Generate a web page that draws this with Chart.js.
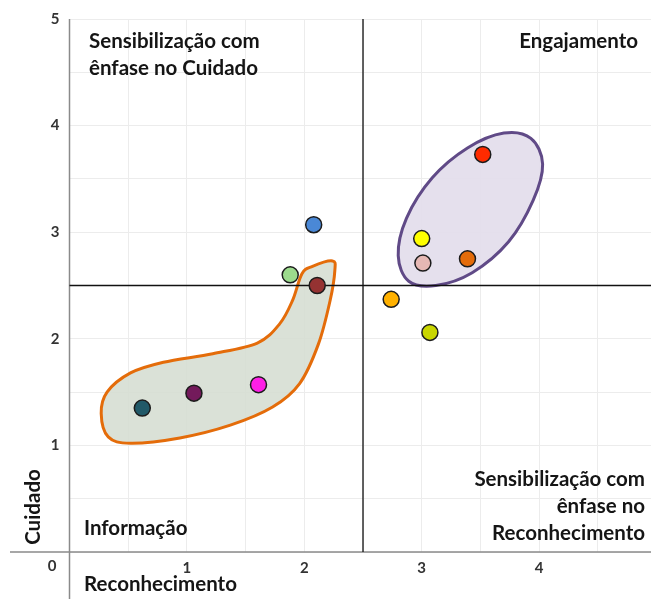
<!DOCTYPE html>
<html>
<head>
<meta charset="utf-8">
<script src="https://cdn.jsdelivr.net/npm/chart.js@4"></script>
<style>
  html, body { margin: 0; padding: 0; background: #fff; overflow: hidden; }
  canvas { display: block; }
</style>
</head>
<body>
<canvas id="matriz" width="670" height="599" style="width:670px;height:599px"></canvas>
<script>
// Pontos (Reconhecimento x Cuidado)
const pontosX = [0.62, 1.06, 1.61, 1.88, 2.08, 2.11, 2.74, 3.07, 3.00, 3.01, 3.39, 3.52];
const pontosY = [1.35, 1.49, 1.57, 2.60, 3.07, 2.50, 2.37, 2.06, 2.94, 2.71, 2.75, 3.73];
const pontosCor = ['#215968', '#731a5b', '#ff1fe6', '#9cdb8d', '#4a88d6', '#953232',
                   '#ffb100', '#c9d600', '#ffff00', '#e6b8b4', '#e46c0a', '#ff2b00'];

// Contorno do grupo laranja (em unidades dos eixos)
const grupoLaranjaX = [0.27, 0.32, 0.52, 0.80, 1.22, 1.60, 1.79, 1.90, 1.98, 2.07, 2.24, 2.26,
                       2.22, 2.12, 1.96, 1.73, 1.37, 0.94, 0.52, 0.33];
const grupoLaranjaY = [1.30, 1.50, 1.68, 1.78, 1.86, 1.96, 2.14, 2.36, 2.61, 2.68, 2.73, 2.64,
                       2.36, 1.95, 1.58, 1.36, 1.19, 1.07, 1.02, 1.08];

// Contorno do grupo roxo
const grupoRoxoX = [3.93, 4.03, 3.95, 3.74, 3.43, 3.12, 2.89, 2.80, 2.87, 3.09, 3.39, 3.70];
const grupoRoxoY = [3.88, 3.64, 3.30, 2.91, 2.62, 2.50, 2.54, 2.78, 3.13, 3.51, 3.79, 3.93];

// Divisao dos quadrantes
const divisaoX = 2.5;
const divisaoY = 2.5;

const fonte = 'Lato, "Open Sans", sans-serif';

// desenha uma curva fechada suave passando pelos pontos
function curvaFechada(ctx, pts) {
    const n = pts.length;
    ctx.beginPath();
    ctx.moveTo(pts[0][0], pts[0][1]);
    for (let i = 0; i < n; i++) {
        const p0 = pts[(i - 1 + n) % n], p1 = pts[i], p2 = pts[(i + 1) % n], p3 = pts[(i + 2) % n];
        ctx.bezierCurveTo(
            p1[0] + (p2[0] - p0[0]) / 6, p1[1] + (p2[1] - p0[1]) / 6,
            p2[0] - (p3[0] - p1[0]) / 6, p2[1] - (p3[1] - p1[1]) / 6,
            p2[0], p2[1]);
    }
    ctx.closePath();
}

const quadrantes = {
    id: 'quadrantes',
    beforeDatasetsDraw(chart) {
        const ctx = chart.ctx, xs = chart.scales.x, ys = chart.scales.y, area = chart.chartArea;
        ctx.save();

        // grupos
        const grupos = [
            { xs: grupoLaranjaX, ys: grupoLaranjaY, fill: 'rgba(214,222,211,0.9)', stroke: '#e46c0a' },
            { xs: grupoRoxoX, ys: grupoRoxoY, fill: 'rgba(228,222,236,0.95)', stroke: '#604a87' }
        ];
        grupos.forEach(g => {
            const pts = g.xs.map((v, i) => [xs.getPixelForValue(v), ys.getPixelForValue(g.ys[i])]);
            curvaFechada(ctx, pts);
            ctx.fillStyle = g.fill;
            ctx.fill();
            ctx.lineWidth = 3;
            ctx.strokeStyle = g.stroke;
            ctx.stroke();
        });

        // eixos
        const x0 = xs.getPixelForValue(0), y0 = ys.getPixelForValue(0);
        ctx.strokeStyle = '#8a8a8a';
        ctx.lineWidth = 1.5;
        ctx.beginPath();
        ctx.moveTo(x0, area.top);
        ctx.lineTo(x0, chart.height);
        ctx.moveTo(10, y0);
        ctx.lineTo(chart.width, y0);
        ctx.stroke();

        // linhas dos quadrantes
        const xd = xs.getPixelForValue(divisaoX), yd = ys.getPixelForValue(divisaoY);
        ctx.strokeStyle = '#111';
        ctx.lineWidth = 1.3;
        ctx.beginPath();
        ctx.moveTo(xd, area.top);
        ctx.lineTo(xd, area.bottom);
        ctx.moveTo(area.left, yd);
        ctx.lineTo(chart.width, yd);
        ctx.stroke();
        ctx.restore();
    },
    afterDraw(chart) {
        const ctx = chart.ctx;
        ctx.save();
        ctx.fillStyle = '#151515';
        ctx.textBaseline = 'middle';
        ctx.font = 'bold 20.5px ' + fonte;

        ctx.textAlign = 'left';
        ctx.fillText('Sensibilização com', 89, 41);
        ctx.fillText('ênfase no Cuidado', 89, 68);
        ctx.fillText('Informação', 84, 528);
        ctx.fillText('Reconhecimento', 84, 584);

        ctx.textAlign = 'right';
        ctx.fillText('Engajamento', 638, 41);
        ctx.fillText('Sensibilização com', 645, 479);
        ctx.fillText('ênfase no', 645, 506);
        ctx.fillText('Reconhecimento', 645, 533);

        ctx.save();
        ctx.translate(33, 507);
        ctx.rotate(-Math.PI / 2);
        ctx.textAlign = 'center';
        ctx.fillText('Cuidado', 0, 0);
        ctx.restore();

        ctx.font = 'bold 15px ' + fonte;
        ctx.fillStyle = '#333';
        ctx.textAlign = 'center';
        ctx.fillText('0', 52, 566);
        ctx.restore();
    }
};

const rotuloTick = v => (Number.isInteger(v) && v !== 0) ? String(v) : '';

new Chart(document.getElementById('matriz').getContext('2d'), {
    type: 'scatter',
    data: {
        datasets: [{
            data: pontosX.map((x, i) => ({ x: x, y: pontosY[i] })),
            backgroundColor: pontosCor,
            borderColor: '#1c1c1c',
            borderWidth: 1.5,
            pointRadius: 8,
            pointHoverRadius: 8
        }]
    },
    options: {
        responsive: false,
        animation: false,
        devicePixelRatio: 1,
        layout: { padding: { top: 17, right: 13.5, left: 0, bottom: 0 } },
        plugins: { legend: { display: false }, tooltip: { enabled: false } },
        scales: {
            x: {
                type: 'linear', min: 0, max: 5,
                afterFit: s => { s.height = 47; },
                border: { display: false },
                grid: { color: '#ececec', lineWidth: 1, drawTicks: false },
                ticks: {
                    stepSize: 0.5, autoSkip: false, padding: 7, callback: rotuloTick,
                    color: '#333', font: { family: fonte, size: 15, weight: 'bold' }
                }
            },
            y: {
                type: 'linear', min: 0, max: 5,
                afterFit: s => { s.width = 69.5; },
                border: { display: false },
                grid: { color: '#ececec', lineWidth: 1, drawTicks: false },
                ticks: {
                    stepSize: 0.5, autoSkip: false, padding: 10, callback: rotuloTick,
                    color: '#333', font: { family: fonte, size: 15, weight: 'bold' }
                }
            }
        }
    },
    plugins: [quadrantes]
});
</script>
</body>
</html>
